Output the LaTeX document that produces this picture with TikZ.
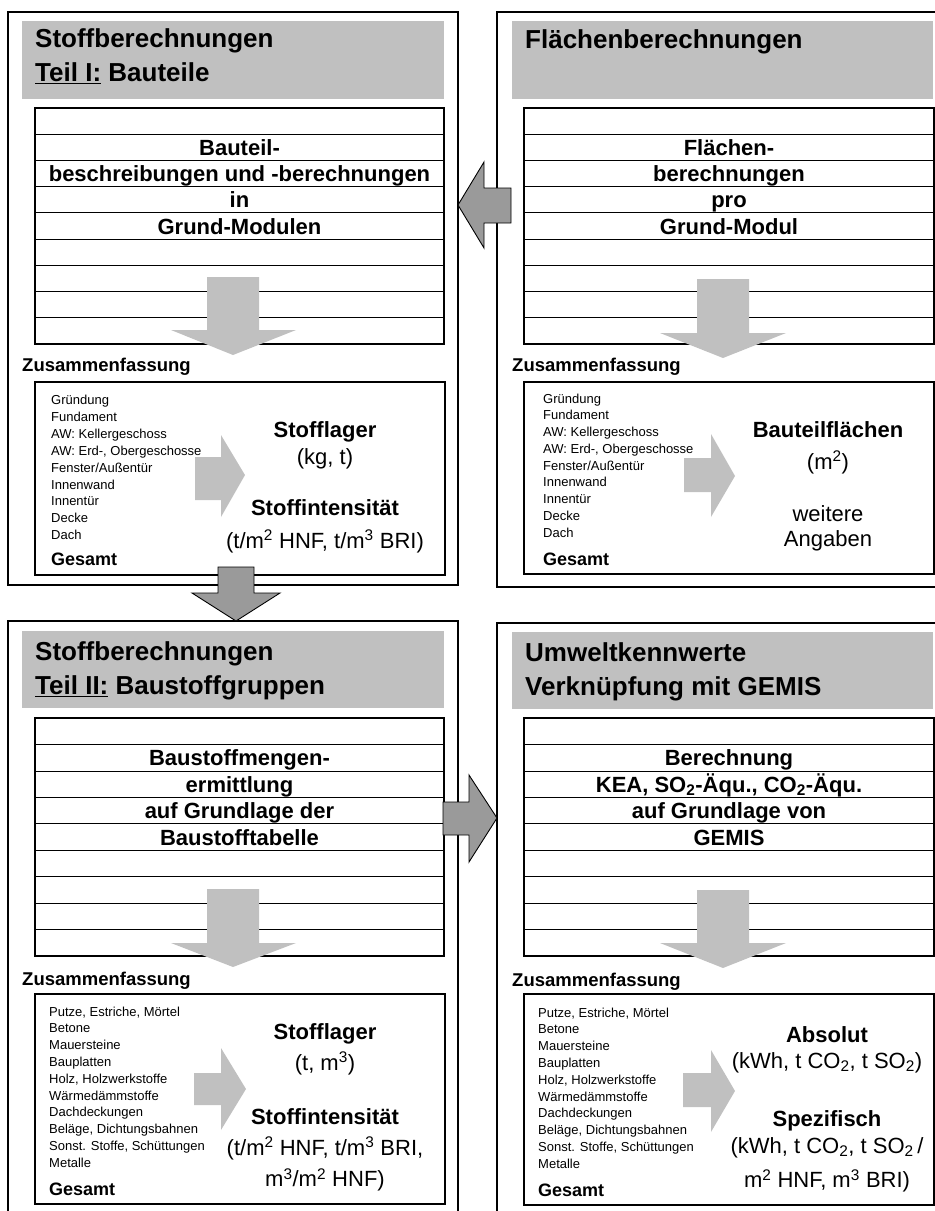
\documentclass[tikz,border=0pt]{standalone}
\usepackage{fontspec}
\setmainfont{Liberation Sans}
\definecolor{hdr}{HTML}{C0C0C0}
\definecolor{bigfill}{HTML}{9A9A9A}
\newcommand\thickul[1]{\setbox0\hbox{#1}\rlap{\rule[-3.4pt]{\wd0}{1.7pt}}\box0\relax}
\tikzset{
 panel/.style={draw=black, line width=1.3pt, anchor=north west, inner sep=0pt, outer sep=0pt},
 header/.style={fill=hdr, anchor=north west, inner sep=0pt, outer sep=0pt},
 tbl/.style={draw=black, line width=1.2pt, anchor=north west, inner sep=0pt, outer sep=0pt},
 rowline/.style={draw=black, line width=0.8pt},
 ttl/.style={font=\fontsize{26}{30}\selectfont\bfseries, anchor=base west, inner sep=0pt},
 cell/.style={font=\fontsize{22}{26}\selectfont\bfseries, anchor=base, inner sep=0pt},
 zus/.style={font=\fontsize{18.5}{22}\selectfont\bfseries, anchor=base west, inner sep=0pt},
 item/.style={font=\fontsize{13}{16}\selectfont, anchor=base west, inner sep=0pt},
 ges/.style={font=\fontsize{18}{22}\selectfont\bfseries, anchor=base west, inner sep=0pt},
 resb/.style={font=\fontsize{22}{26}\selectfont\bfseries, anchor=base, inner sep=0pt},
 resn/.style={font=\fontsize{22}{26}\selectfont, anchor=base, inner sep=0pt},
 inarrow/.style={fill=hdr},
 bigarr/.style={fill=bigfill, draw=black, line width=0.9pt, line join=miter},
}
\begin{document}
\begin{tikzpicture}[x=1pt,y=-1pt]
\useasboundingbox (0,0) rectangle (935,1211);
\clip (0,0) rectangle (935,1211);

% ---------- outer panels ----------
\node[panel, minimum width=450, minimum height=573] (tl) at (8,12) {};
\node[panel, minimum width=453, minimum height=575] (tr) at (497,12) {};
\node[panel, minimum width=450, minimum height=609] (bl) at (8,621) {};
\node[panel, minimum width=453, minimum height=607] (br) at (497,623) {};

% ---------- headers ----------
\node[header, minimum width=422, minimum height=78] (tlh) at (22,21) {};
\node[header, minimum width=421, minimum height=78] (trh) at (512,21) {};
\node[header, minimum width=422, minimum height=77] (blh) at (22,631) {};
\node[header, minimum width=421, minimum height=77] (brh) at (512,632) {};

\node[ttl] (tlt1) at (35,47) {Stoffberechnungen};
\node[ttl] (tlt2) at (35,81) {\thickul{Teil I:} Bauteile};
\node[ttl] (trt1) at (525,48) {Flächenberechnungen};
\node[ttl] (blt1) at (35,660) {Stoffberechnungen};
\node[ttl] (blt2) at (35,694) {\thickul{Teil II:} Baustoffgruppen};
\node[ttl] (brt1) at (525,661) {Umweltkennwerte};
\node[ttl] (brt2) at (525,695) {Verknüpfung mit GEMIS};

% ---------- row tables ----------
\node[tbl, minimum width=409, minimum height=236] (tltab) at (35,108) {};
\node[tbl, minimum width=410, minimum height=236] (trtab) at (524,108) {};
\node[tbl, minimum width=409, minimum height=238] (bltab) at (35,718) {};
\node[tbl, minimum width=410, minimum height=238] (brtab) at (524,718) {};
\foreach \k in {1,...,8}{
  \draw[rowline] (35,{108+\k*236/9}) -- (444,{108+\k*236/9});
  \draw[rowline] (524,{108+\k*236/9}) -- (934,{108+\k*236/9});
  \draw[rowline] (35,{718+\k*238/9}) -- (444,{718+\k*238/9});
  \draw[rowline] (524,{718+\k*238/9}) -- (934,{718+\k*238/9});
}

\node[cell] (tlc1) at (239.5,155.3) {Bauteil-};
\node[cell] (tlc2) at (239.5,181.6) {beschreibungen und -berechnungen};
\node[cell] (tlc3) at (239.5,207.8) {in};
\node[cell] (tlc4) at (239.5,234) {Grund-Modulen};

\node[cell] (trc1) at (729,155.3) {Flächen-};
\node[cell] (trc2) at (729,181.6) {berechnungen};
\node[cell] (trc3) at (729,207.8) {pro};
\node[cell] (trc4) at (729,234) {Grund-Modul};

\node[cell] (blc1) at (239.5,765.7) {Baustoffmengen-};
\node[cell] (blc2) at (239.5,792.1) {ermittlung};
\node[cell] (blc3) at (239.5,818.5) {auf Grundlage der};
\node[cell] (blc4) at (239.5,845) {Baustofftabelle};

\node[cell] (brc1) at (729,765.7) {Berechnung};
\node[cell] (brc2) at (729,792.1) {KEA, SO\textsubscript{2}-Äqu., CO\textsubscript{2}-Äqu.};
\node[cell] (brc3) at (729,818.5) {auf Grundlage von};
\node[cell] (brc4) at (729,845) {GEMIS};

% ---------- inner down arrows ----------
\fill[inarrow] (207,277) -- (259,277) -- (259,330) -- (296,330) -- (233,355) -- (171,330) -- (207,330) -- cycle;
\fill[inarrow] (697,279) -- (749,279) -- (749,333) -- (786,333) -- (723,358) -- (660,333) -- (697,333) -- cycle;
\fill[inarrow] (207,889) -- (259,889) -- (259,943) -- (296,943) -- (233,967) -- (171,943) -- (207,943) -- cycle;
\fill[inarrow] (697,890) -- (749,890) -- (749,943) -- (786,943) -- (723,968) -- (660,943) -- (697,943) -- cycle;

% ---------- Zusammenfassung ----------
\node[zus] (tlz) at (22,371.5) {Zusammenfassung};
\node[zus] (trz) at (512,371.5) {Zusammenfassung};
\node[zus] (blz) at (22,985.5) {Zusammenfassung};
\node[zus] (brz) at (512,986.5) {Zusammenfassung};

\node[tbl, minimum width=410, minimum height=193] (tls) at (35,382) {};
\node[tbl, minimum width=410, minimum height=192] (trs) at (524,382) {};
\node[tbl, minimum width=410, minimum height=210] (bls) at (35,994) {};
\node[tbl, minimum width=410, minimum height=211] (brs) at (524,994) {};

% inner right arrows
\fill[inarrow] (195,457) -- (221,457) -- (221,435) -- (245,475) -- (221,517) -- (221,500) -- (195,500) -- cycle;
\fill[inarrow] (684,458) -- (711,458) -- (711,434) -- (735,476) -- (711,517) -- (711,492) -- (684,492) -- cycle;
\fill[inarrow] (194,1073) -- (221,1073) -- (221,1048) -- (246,1089) -- (221,1130) -- (221,1105) -- (194,1105) -- cycle;
\fill[inarrow] (683,1073) -- (711,1073) -- (711,1050) -- (735,1091) -- (711,1132) -- (711,1107) -- (683,1107) -- cycle;

% lists
\foreach \t [count=\i from 0] in {Gründung, Fundament, AW: Kellergeschoss, {AW: Erd-, Obergeschosse}, Fenster/Außentür, Innenwand, Innentür, Decke, Dach}{
  \node[item] (tli\i) at (51,{404.5+\i*16.9}) {\t};
  \node[item] (tri\i) at (543,{403+\i*16.75}) {\t};
}
\foreach \t [count=\i from 0] in {{Putze, Estriche, Mörtel}, Betone, Mauersteine, Bauplatten, {Holz, Holzwerkstoffe}, Wärmedämmstoffe, Dachdeckungen, {Beläge, Dichtungsbahnen}, {Sonst. Stoffe, Schüttungen}, Metalle}{
  \node[item] (bli\i) at (49,{1016+\i*16.8}) {\t};
  \node[item] (bri\i) at (538,{1017+\i*16.8}) {\t};
}
\node[ges] (tlg) at (51,565.5) {Gesamt};
\node[ges] (trg) at (543,565.5) {Gesamt};
\node[ges] (blg) at (49,1195.5) {Gesamt};
\node[ges] (brg) at (538,1196.5) {Gesamt};

% results
\node[resb] (tlr1) at (325,437) {Stofflager};
\node[resn] (tlr2) at (325,464.3) {(kg, t)};
\node[resb] (tlr3) at (325,515.7) {Stoffintensität};
\node[resn] (tlr4) at (325,548.3) {(t/m\textsuperscript{2} HNF, t/m\textsuperscript{3} BRI)};

\node[resb] (trr1) at (828,437.3) {Bauteilflächen};
\node[resn] (trr2) at (828,469.3) {(m\textsuperscript{2})};
\node[resn] (trr3) at (828,521) {weitere};
\node[resn] (trr4) at (828,546) {Angaben};

\node[resb] (blr1) at (325,1039.3) {Stofflager};
\node[resn] (blr2) at (325,1070) {(t, m\textsuperscript{3})};
\node[resb] (blr3) at (325,1124) {Stoffintensität};
\node[resn] (blr4) at (325,1155) {(t/m\textsuperscript{2} HNF, t/m\textsuperscript{3} BRI,};
\node[resn] (blr5) at (325,1186.7) {m\textsuperscript{3}/m\textsuperscript{2} HNF)};

\node[resb] (brr1) at (827,1042.7) {Absolut};
\node[resn] (brr2) at (827,1068.3) {(kWh, t CO\textsubscript{2}, t SO\textsubscript{2})};
\node[resb] (brr3) at (827,1126.7) {Spezifisch};
\node[resn] (brr4) at (827,1153) {(kWh, t CO\textsubscript{2}, t SO\textsubscript{2}\,/};
\node[resn] (brr5) at (827,1187.7) {m\textsuperscript{2} HNF, m\textsuperscript{3} BRI)};

% ---------- big connecting arrows ----------
\draw[bigarr] (511,188) -- (484,188) -- (484,162) -- (458,205) -- (484,248) -- (484,223) -- (511,223) -- cycle;
\draw[bigarr] (218,567) -- (254,567) -- (254,593) -- (280,593) -- (236,621) -- (192,593) -- (218,593) -- cycle;
\draw[bigarr] (443,802) -- (469,802) -- (469,775) -- (497,818) -- (469,862) -- (469,835) -- (443,835) -- cycle;
\end{tikzpicture}
\end{document}
